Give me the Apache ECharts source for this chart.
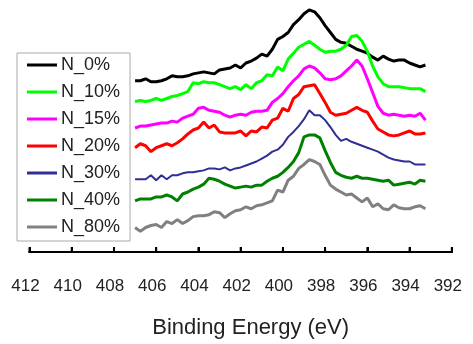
<!DOCTYPE html>
<html>
<head>
<meta charset="utf-8">
<script src="https://cdn.jsdelivr.net/npm/echarts@6/dist/echarts.min.js"></script>
<style>
  html, body { margin: 0; padding: 0; background: #fff; }
  #main { width: 473px; height: 344px; }
</style>
</head>
<body>
<div id="main"></div>
<script>
// binding energy (eV)
var energy = [407, 406.75, 406.5, 406.25, 406, 405.75, 405.5, 405.25, 405, 404.75,
  404.5, 404.25, 404, 403.75, 403.5, 403.25, 403, 402.75, 402.5, 402.25,
  402, 401.75, 401.5, 401.25, 401, 400.75, 400.5, 400.25, 400, 399.75,
  399.5, 399.25, 399, 398.75, 398.5, 398.25, 398, 397.75, 397.5, 397.25,
  397, 396.75, 396.5, 396.25, 396, 395.75, 395.5, 395.25, 395, 394.75,
  394.5, 394.25, 394, 393.75, 393.5, 393.25];

// x axis tick values
var ticks = [412, 410, 408, 406, 404, 402, 400, 398, 396, 394, 392];

// intensities (arbitrary units, curves already stacked)
var n0 = [174,174,176,173,173,174,176,179,178,178,179,181,182,183,182,181,185,186,187,190,
  187,192,194,197,201,199,206,216,219,223,231,236,242,246,244,238,230,223,216,213,
  212,209,206,204,202,198,195,199,196,194,195,195,192,190,188,190];
var n10 = [153,154,153,154,156,154,156,158,159,161,163,172,171,173,172,172,170,168,166,168,
  165,170,166,172,174,180,179,188,184,196,202,208,211,214,210,206,203,204,204,206,
  210,219,220,214,204,189,178,171,168,168,168,167,166,166,166,163];
var n15 = [126,128,128,129,130,131,131,133,132,136,138,140,146,147,144,143,142,139,137,139,
  140,139,142,143,143,144,152,156,161,168,174,179,186,189,187,182,176,175,176,179,
  184,189,195,189,176,162,148,141,139,140,139,138,139,138,141,134];
var n20 = [106,110,108,102,106,108,110,108,111,115,120,124,126,132,126,129,122,121,121,121,
  123,118,123,122,127,126,134,136,146,143,156,160,168,169,170,161,152,142,139,140,
  141,144,147,144,142,133,125,122,119,118,119,121,123,120,120,121];
var n30 = [74,74,74,78,73,78,74,78,78,80,81,81,82,83,85,85,84,86,83,85,
  86,88,90,92,95,98,102,104,109,117,122,128,135,144,139,139,134,127,119,113,
  115,112,110,108,106,104,102,99,96,94,93,92,92,89,89,89];
var n40 = [52,54,54,54,56,56,58,56,52,59,61,64,66,69,75,74,72,69,67,65,
  66,67,66,68,68,72,75,77,81,86,92,101,117,119,119,116,103,91,81,78,
  76,75,77,75,75,74,73,72,73,68,69,70,71,69,73,72];
var n80 = [25,21,25,27,28,25,31,29,33,29,32,36,37,37,38,41,40,35,39,42,
  43,46,44,47,48,50,52,63,61,73,77,85,89,94,92,89,78,68,64,61,
  58,59,55,51,55,46,49,44,43,48,45,44,44,46,47,44];

var names = ['N_0%', 'N_10%', 'N_15%', 'N_20%', 'N_30%', 'N_40%', 'N_80%'];
var values = [n0, n10, n15, n20, n30, n40, n80];
var colors = ['#000000', '#00ff00', '#ff00ff', '#ff0000', '#2e2e96', '#008000', '#808080'];
var widths = [3, 3, 3, 3, 2, 3, 3];

var chart = echarts.init(document.getElementById('main'));

var series = [];
for (var i = 0; i < names.length; i++) {
  var vals = values[i];
  series.push({
    name: names[i],
    type: 'line',
    symbol: 'none',
    data: energy.map(function (e, j) { return [e, vals[j]]; }),
    lineStyle: { color: colors[i], width: widths[i] },
    itemStyle: { color: colors[i] }
  });
}

var option = {
  animation: false,
  backgroundColor: '#fff',
  textStyle: { fontFamily: 'Liberation Sans, Arial, sans-serif' },
  grid: { left: 29.5, right: 21, top: 0, bottom: 88 },
  legend: {
    orient: 'vertical',
    left: 17,
    top: 53,
    data: names,
    icon: 'rect',
    itemWidth: 30,
    itemHeight: 3,
    itemGap: 9,
    padding: [3, 10, 5, 10],
    backgroundColor: '#fff',
    borderColor: '#aaaaaa',
    borderWidth: 1,
    textStyle: { fontSize: 18, lineHeight: 18, color: '#222', padding: [0, 0, 0, -1] }
  },
  xAxis: {
    type: 'value',
    inverse: true,
    min: 392,
    max: 412,
    interval: 2,
    name: 'Binding Energy (eV)',
    nameLocation: 'middle',
    nameGap: 62,
    nameTextStyle: { fontSize: 22, lineHeight: 22, color: '#222', padding: [0, 0, 0, 20] },
    splitLine: { show: false },
    axisLine: { show: true, lineStyle: { color: '#000', width: 2 } },
    axisTick: { show: true, inside: true, length: 5, lineStyle: { color: '#000', width: 2 } },
    axisLabel: { fontSize: 17, lineHeight: 51, color: '#222', margin: 9, padding: [0, 8, 0, 0] }
  },
  yAxis: {
    type: 'value',
    min: 0,
    max: 256,
    show: false
  },
  series: series
};

chart.setOption(option);

// axis line and ticks, placed through the chart's own scales
function px(v) {
  return chart.convertToPixel({ xAxisIndex: 0, yAxisIndex: 0 }, [v, 0]);
}
var a = px(ticks[0]);
var b = px(ticks[ticks.length - 1]);
var elements = [{
  type: 'line',
  shape: { x1: a[0] - 1, y1: a[1], x2: b[0] + 1, y2: b[1] },
  style: { stroke: '#000', lineWidth: 2 },
  z: 10
}];
ticks.forEach(function (t) {
  var p = px(t);
  elements.push({
    type: 'line',
    shape: { x1: p[0], y1: p[1], x2: p[0], y2: p[1] - 5 },
    style: { stroke: '#000', lineWidth: 2 },
    z: 10
  });
});
chart.setOption({ graphic: { elements: elements } });
</script>
</body>
</html>
